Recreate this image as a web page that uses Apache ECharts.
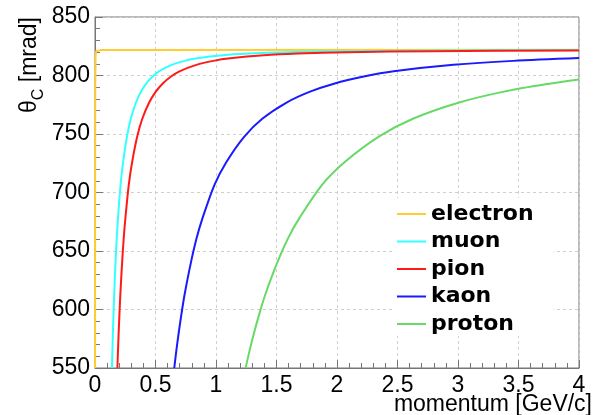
<!DOCTYPE html>
<html>
<head>
<meta charset="utf-8">
<script src="https://cdn.jsdelivr.net/npm/echarts@6/dist/echarts.min.js"></script>
<style>
html,body{margin:0;padding:0;background:#fff;}
#chart{width:595px;height:415px;}
</style>
</head>
<body>
<div id="chart"></div>
<script>
// momentum [GeV/c] and Cherenkov angle [mrad]
const momentumElectron = [0.0005, 0.001, 0.002, 0.005, 0.01, 0.05, 4.0];
const thetaElectron    = [550, 700, 791, 817, 820.8, 821.9, 822.0];

const momentumMuon = [0.1402,0.1437,0.1479,0.1532,0.1585,0.1691,0.1796,0.1902,0.2113,0.2325,0.2642,0.2958,0.3381,0.3804,0.4226,0.4755,0.5283,0.6340,0.7396,0.8453,1.0566,1.2679,1.5849,2.1132,2.9585,4.0];
const thetaMuon    = [550,564.2,579.7,597.1,612.8,638.8,660.8,678.1,706.6,726.1,747.8,763.0,776.7,786.2,793.0,799.1,803.6,809.1,812.5,814.7,817.3,818.7,819.9,820.8,821.4,821.7];

const momentumPion = [0.1852,0.1898,0.1954,0.2024,0.2094,0.2233,0.2373,0.2512,0.2791,0.3071,0.3489,0.3908,0.4466,0.5025,0.5583,0.6281,0.6979,0.8374,0.9770,1.1166,1.3957,1.6748,2.0936,2.7914,4.0];
const thetaPion    = [550,564.2,579.7,597.1,612.8,638.8,660.8,678.1,706.6,726.1,747.8,763.0,776.7,786.2,793.0,799.1,803.6,809.1,812.5,814.7,817.3,818.7,819.9,820.8,821.4];

const momentumKaon = [0.6551,0.6714,0.6912,0.7158,0.7405,0.7899,0.8393,0.8886,0.9874,1.0861,1.2342,1.3823,1.5798,1.7772,1.9747,2.2216,2.4684,2.9621,3.4558,4.0];
const thetaKaon    = [550,564.2,579.7,597.1,612.8,638.8,660.8,678.1,706.6,726.1,747.8,763.0,776.7,786.2,793.0,799.1,803.6,809.1,812.5,814.9];

const momentumProton = [1.2451,1.2760,1.3136,1.3605,1.4074,1.5012,1.5951,1.6889,1.8765,2.0642,2.3457,2.6272,3.0025,3.3778,3.7531,4.0];
const thetaProton    = [550,564.2,579.7,597.1,612.8,638.8,660.8,678.1,706.6,726.1,747.8,763.0,776.7,786.2,793.0,796.6];

const seriesNames  = ['electron','muon','pion','kaon','proton'];
const seriesColors = ['#ffcc33','#33ffff','#ff1a1a','#1a1aff','#66d966'];

const xTitle = 'momentum [GeV/c]';

function pairs(xs, ys){ return xs.map((x,i)=>[x, ys[i]]); }
const allData = [
  pairs(momentumElectron, thetaElectron),
  pairs(momentumMuon, thetaMuon),
  pairs(momentumPion, thetaPion),
  pairs(momentumKaon, thetaKaon),
  pairs(momentumProton, thetaProton)
];

const chart = echarts.init(document.getElementById('chart'), null, {renderer:'canvas'});
const font = '"Liberation Sans", Arial, Helvetica, sans-serif';

const option = {
  animation: false,
  backgroundColor: '#fff',
  grid: {left: 95, right: 16, top: 17, bottom: 47, show: true, borderColor: '#777', borderWidth: 1},
  xAxis: {
    type: 'value', min: 0, max: 4, interval: 0.5,
    axisLine: {show: true, lineStyle: {color: '#777', width: 1}},
    axisTick: {show: true, inside: true, length: 8, lineStyle: {color: '#777'}},
    minorTick: {show: true, splitNumber: 5, length: 5, lineStyle: {color: '#777'}},
    splitLine: {show: true, lineStyle: {color: '#cfcfcf', type: [3,3], width: 1}},
    axisLabel: {color: '#000', fontFamily: font, fontSize: 23, margin: 6,
      formatter: v => String(v)}
  },
  yAxis: {
    type: 'value', min: 550, max: 850, interval: 50,
    axisLine: {show: true, lineStyle: {color: '#777', width: 1}},
    axisTick: {show: true, inside: true, length: 8, lineStyle: {color: '#777'}},
    minorTick: {show: true, splitNumber: 5, length: 5, lineStyle: {color: '#777'}},
    splitLine: {show: true, lineStyle: {color: '#cfcfcf', type: [3,3], width: 1}},
    axisLabel: {color: '#000', fontFamily: font, fontSize: 23, margin: 5}
  },
  legend: {
    orient: 'vertical', left: 392, top: 198,
    padding: [5, 20, 1, 5],
    backgroundColor: '#fff',
    icon: 'rect',
    itemWidth: 29, itemHeight: 2, itemGap: 5.5,
    textStyle: {fontFamily: '"DejaVu Sans", sans-serif', fontWeight: 'bold', fontSize: 22, lineHeight: 22, color: '#000'},
    data: seriesNames.map((n, i) => ({name: n, itemStyle: {color: seriesColors[i]}}))
  },
  series: seriesNames.map((name, i) => ({
    name: name, type: 'line', data: allData[i],
    symbol: 'none', showSymbol: false,
    smooth: i === 0 ? false : 0.3,
    lineStyle: {color: seriesColors[i], width: 2},
    itemStyle: {color: seriesColors[i]},
    z: 3
  })),
  graphic: [
    {type: 'text', x: 592, y: 405, z: 10,
      style: {text: xTitle, fontFamily: font, fontSize: 23, fill: '#000', textAlign: 'right', textVerticalAlign: 'middle'}},
    {type: 'text', x: 29.5, y: 113, rotation: Math.PI / 2, z: 10,
      style: {text: '{a|θ}{s|C}{a| [mrad]}', textAlign: 'left', textVerticalAlign: 'middle', fill: '#000',
        rich: {
          a: {fontFamily: font, fontSize: 23, lineHeight: 34, fill: '#000'},
          s: {fontFamily: font, fontSize: 16, lineHeight: 16, verticalAlign: 'bottom', fill: '#000'}
        }}}
  ]
};
chart.setOption(option);
</script>
</body>
</html>
